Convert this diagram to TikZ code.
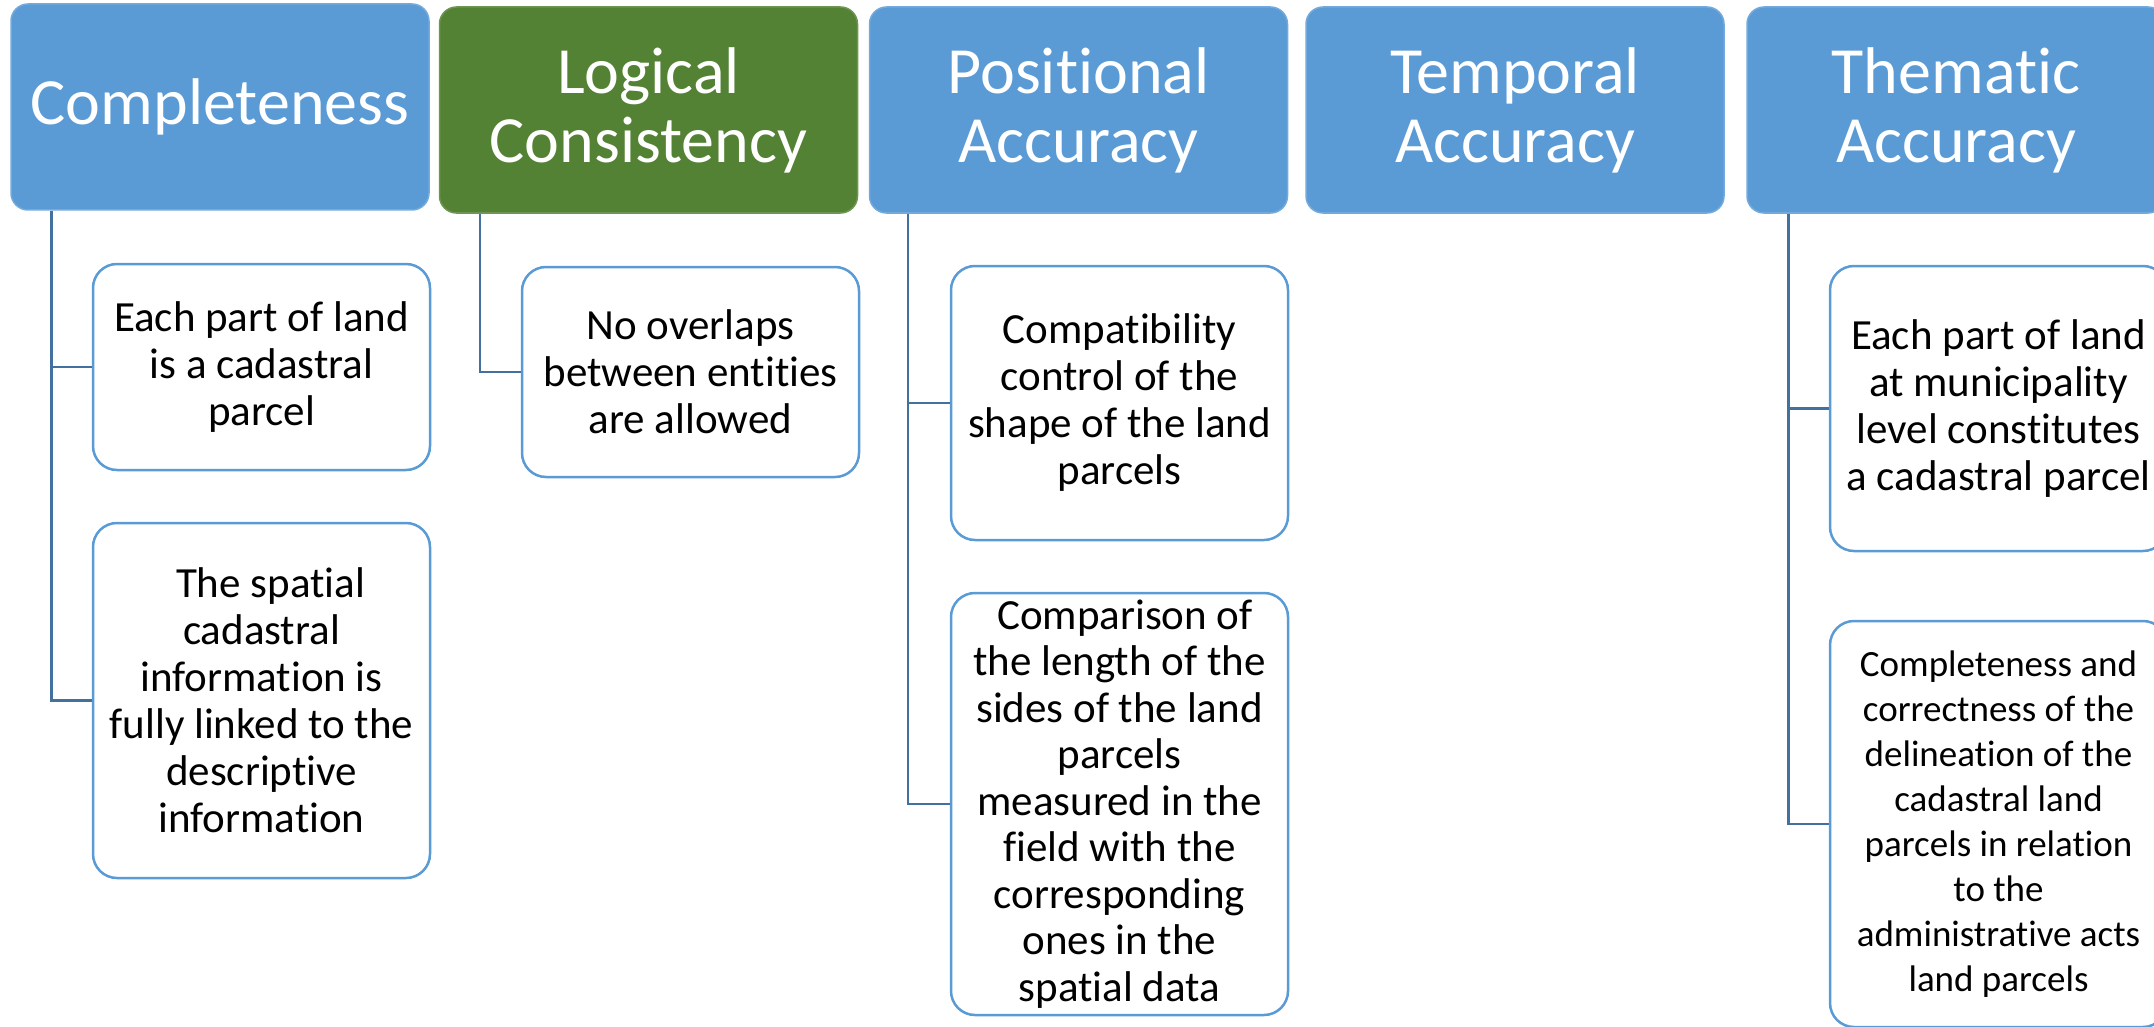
\documentclass[tikz,border=0pt]{standalone}
\usepackage{fontspec}
\setmainfont{Carlito}[Ligatures={NoCommon}]
\definecolor{hdrblue}{HTML}{5B9BD5}
\definecolor{hdrgreen}{HTML}{548235}
\definecolor{boxline}{HTML}{5B9BD5}
\definecolor{linkline}{HTML}{41719C}
\tikzset{
  hdr/.style={rounded corners=17pt, fill=hdrblue, draw=hdrblue!85!white, line width=1.5pt,
    minimum width=418pt, minimum height=206pt, inner sep=0pt, align=center,
    text=white, font=\fontsize{66}{69}\selectfont},
  hdrg/.style={hdr, fill=hdrgreen, draw=hdrgreen!85!white},
  leaf/.style={rounded corners=24pt, fill=white, draw=boxline, line width=2.5pt,
    minimum width=337pt, inner sep=0pt, align=center, text=black,
    font=\fontsize{43}{47}\selectfont},
  link/.style={draw=linkline, line width=2.5pt}
}
\begin{document}
\begin{tikzpicture}[x=1pt, y=-1pt]
\useasboundingbox (0,0) rectangle (2154,1027);
\clip (0,0) rectangle (2154,1027);

% category headers
\node[hdr]  (h1) at (220,107)    {Completeness};
\node[hdrg] (h2) at (648.5,110)  {Logical\\Consistency};
\node[hdr]  (h3) at (1078.5,110) {Positional\\Accuracy};
\node[hdr]  (h4) at (1515,110)   {Temporal\\Accuracy};
\node[hdr]  (h5) at (1956,110)   {Thematic\\Accuracy};

% quality checks
\node[leaf, minimum height=206pt] (a) at (261.5,367) {Each part of land\\is a cadastral\\parcel};
\node[leaf, minimum height=355pt] (b) at (261.5,700.5) {\hspace*{0.42em}The spatial\\cadastral\\information is\\fully linked to the\\descriptive\\information};
\node[leaf, minimum height=210pt] (l) at (690.5,372) {No overlaps\\between entities\\are allowed};
\node[leaf, minimum height=274pt] (c) at (1119.5,403) {Compatibility\\control of the\\shape of the land\\parcels};
\node[leaf, minimum height=422pt, font=\fontsize{43}{46.5}\selectfont] (d) at (1119.5,804) {\hspace*{0.25em}Comparison of\\the length of the\\sides of the land\\parcels\\measured in the\\field with the\\corresponding\\ones in the\\spatial data};
\node[leaf, minimum height=285pt] (e) at (1998.5,408.5) {Each part of land\\at municipality\\level constitutes\\a cadastral parcel};
\node[leaf, minimum height=406pt, font=\fontsize{37}{45}\selectfont] (f) at (1998.5,824) {Completeness and\\correctness of the\\delineation of the\\cadastral land\\parcels in relation\\to the\\administrative acts\\land parcels};

% tree links
\coordinate (r1) at ([xshift=41pt]h1.south west);
\coordinate (r2) at ([xshift=41pt]h2.south west);
\coordinate (r3) at ([xshift=39pt]h3.south west);
\coordinate (r5) at ([xshift=42pt]h5.south west);
\draw[link] (r1) |- (a.west);
\draw[link] (r1) |- (b.west);
\draw[link] (r2) |- (l.west);
\draw[link] (r3) |- (c.west);
\draw[link] (r3) |- (d.west);
\draw[link] (r5) |- (e.west);
\draw[link] (r5) |- (f.west);
\end{tikzpicture}
\end{document}
